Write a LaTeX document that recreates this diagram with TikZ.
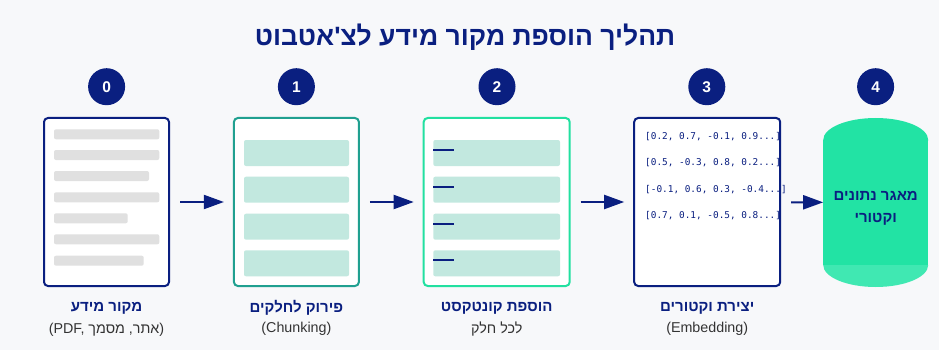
\documentclass[tikz,border=0pt]{standalone}
\usepackage{fontspec}
\setmainfont{Liberation Sans}
\newfontfamily\heb[Script=Hebrew]{Liberation Sans}
\newfontfamily\monof{DejaVu Sans Mono}
\usetikzlibrary{arrows.meta}
\TeXXeTstate=1
\definecolor{mnavy}{HTML}{0A1F80}
\definecolor{bgc}{HTML}{F7F8FA}
\definecolor{tealb}{HTML}{20A090}
\definecolor{greenb}{HTML}{22E0A0}
\definecolor{chunkc}{HTML}{C2E8DF}
\definecolor{grayb}{HTML}{E0E0E0}
\definecolor{subgray}{HTML}{333333}
\definecolor{dbgreen}{HTML}{22E3A4}
\definecolor{dblight}{HTML}{40E8B2}
\begin{document}
\begin{tikzpicture}[x=1pt,y=-1pt,
  boxnode/.style={draw, line width=2pt, rounded corners=4pt, fill=white, minimum height=168pt, inner sep=0pt, outer sep=0pt},
  numnode/.style={circle, fill=mnavy, minimum size=37pt, inner sep=0pt, text=white, font=\fontsize{15.5}{17}\selectfont\bfseries},
  labnode/.style={font=\heb\fontsize{15}{17}\selectfont\bfseries, text=mnavy, inner sep=0pt},
  subnode/.style={font=\fontsize{14.3}{16}\selectfont, text=subgray, inner sep=0pt},
  vecnode/.style={font=\monof\fontsize{9.4}{11}\selectfont, text=mnavy, inner sep=0pt, anchor=west},
  arr/.style={-{Triangle[length=20pt,width=14pt]}, line width=2pt, draw=mnavy},
  chunk/.style={fill=chunkc, rounded corners=2pt},
  bar/.style={fill=grayb, rounded corners=2pt},
  ctx/.style={draw=mnavy, line width=2pt}
]
\useasboundingbox (0,0) rectangle (939,350);
\fill[bgc] (0,0) rectangle (939,350);

% title
\node[font=\heb\fontsize{26.5}{30}\selectfont\bfseries, text=mnavy, inner sep=0pt] (title) at (465,37) {\beginR תהליך הוספת מקור מידע לצ'אטבוט\endR};

% step numbers
\node[numnode] (c0) at (106.6,86.7) {0};
\node[numnode] (c1) at (296.4,86.7) {1};
\node[numnode] (c2) at (497,86.7) {2};
\node[numnode] (c3) at (706.8,86.7) {3};
\node[numnode] (c4) at (875.6,86.7) {4};

% box 0: source document
\node[boxnode, draw=mnavy, minimum width=125pt] (b0) at (106.5,202) {};
\fill[bar] (54,129.3) rectangle (159.3,139.3);
\fill[bar] (54,150) rectangle (159.3,160);
\fill[bar] (54,171) rectangle (149,181);
\fill[bar] (54,192.3) rectangle (159.3,202.3);
\fill[bar] (54,213.3) rectangle (127.7,223.3);
\fill[bar] (54,234.3) rectangle (159.3,244.3);
\fill[bar] (54,255.7) rectangle (143.7,265.7);

% box 1: chunking
\node[boxnode, draw=tealb, minimum width=125pt] (b1) at (296.4,202) {};
\foreach \t in {140,176.7,213.7,250.3}
  \fill[chunk] (244,\t) rectangle (349,\t+26);

% box 2: context
\node[boxnode, draw=greenb, minimum width=146pt] (b2) at (496.7,202) {};
\foreach \t in {140,176.7,213.7,250.3}{
  \fill[chunk] (433.3,\t) rectangle (560,\t+26);
  \draw[ctx] (433.3,\t+10) -- (454.3,\t+10);
}

% box 3: embeddings
\node[boxnode, draw=none, minimum width=146pt] (b3) at (707.2,202) {};
\node[vecnode] (v1) at (645,137) {[0.2, 0.7, -0.1, 0.9...]};
\node[vecnode] (v2) at (645,163) {[0.5, -0.3, 0.8, 0.2...]};
\node[vecnode] (v3) at (645,189.5) {[-0.1, 0.6, 0.3, -0.4...]};
\node[vecnode] (v4) at (645,216) {[0.7, 0.1, -0.5, 0.8...]};
\draw[mnavy, line width=2pt, rounded corners=4pt] (b3.north west) rectangle (b3.south east);

% vector database cylinder
\fill[dbgreen] (823.2,140) rectangle (928.2,265);
\fill[dbgreen] (875.7,140) ellipse [x radius=52.5, y radius=22];
\fill[dblight] (823.2,265) arc[start angle=180, end angle=0, x radius=52.5, y radius=22] -- cycle;
\node[minimum width=105pt, minimum height=168pt, inner sep=0pt, outer sep=0pt] (db) at (875.7,202.5) {};
\node[font=\heb\fontsize{15}{21.6}\selectfont\bfseries, text=mnavy, align=center, inner sep=0pt] (dbt) at (875.7,208.5) {\beginR מאגר נתונים\endR\\\beginR וקטורי\endR};

% arrows
\draw[arr, shorten <=11pt, shorten >=10pt] (b0) -- (b1);
\draw[arr, shorten <=11pt, shorten >=10pt] (b1) -- (b2);
\draw[arr, shorten <=11pt, shorten >=10pt] (b2) -- (b3);
\draw[arr, shorten <=11pt] (b3) -- (db);

% labels
\node[labnode] (l0) at (106.5,308.3) {\beginR מקור מידע\endR};
\node[subnode] (s0) at (106.5,329.3) {(PDF, {\heb\beginR מסמך\endR} ,{\heb\beginR אתר\endR})};
\node[labnode] (l1) at (296.4,308.3) {\beginR פירוק לחלקים\endR};
\node[subnode] (s1) at (296.4,329.3) {(Chunking)};
\node[labnode] (l2) at (496.7,308.3) {\beginR הוספת קונטקסט\endR};
\node[subnode, font=\heb\fontsize{14.3}{16}\selectfont] (s2) at (496.7,329.3) {\beginR לכל חלק\endR};
\node[labnode] (l3) at (707.2,308.3) {\beginR יצירת וקטורים\endR};
\node[subnode] (s3) at (707.2,329.3) {(Embedding)};
\end{tikzpicture}
\end{document}
